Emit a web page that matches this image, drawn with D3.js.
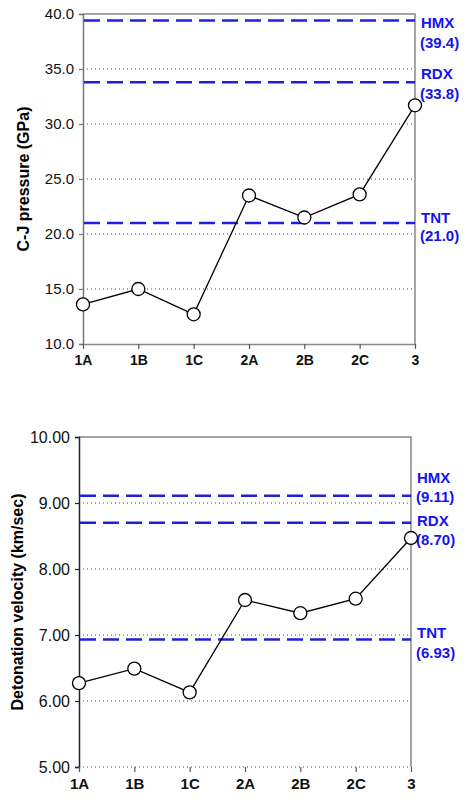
<!DOCTYPE html>
<html>
<head>
<meta charset="utf-8">
<script src="https://cdn.jsdelivr.net/npm/d3@7"></script>
<style>
  body { margin: 0; background: #fff; }
  text { font-family: "Liberation Sans", Arial, sans-serif; }
</style>
</head>
<body>
<div id="chart"></div>
<script>
// Datos
const categories = ["1A", "1B", "1C", "2A", "2B", "2C", "3"];
const pressure = [13.6, 15.0, 12.7, 23.5, 21.5, 23.6, 31.7];
const velocity = [6.27, 6.49, 6.13, 7.53, 7.33, 7.55, 8.47];
const refNames = ["HMX", "RDX", "TNT"];
const refPressure = [39.4, 33.8, 21.0];
const refVelocity = [9.11, 8.70, 6.93];
const pressureTicks = [10, 15, 20, 25, 30, 35, 40];
const velocityTicks = [5, 6, 7, 8, 9, 10];

const svg = d3.select("#chart")
  .append("svg")
  .attr("width", 467)
  .attr("height", 800);

function drawPanel(p) {
  const g = svg.append("g");

  const x = d3.scalePoint().domain(categories).range([p.left, p.right]);
  const y = d3.scaleLinear().domain(d3.extent(p.ticks)).range([p.bottom, p.top]);

  // Rejilla punteada
  g.selectAll(".grid")
    .data(p.ticks.filter(t => t > p.ticks[0] && t < p.ticks[p.ticks.length - 1]).concat(p.dottedBase ? [p.ticks[0]] : []))
    .enter().append("line")
    .attr("x1", p.left).attr("x2", p.right)
    .attr("y1", d => y(d)).attr("y2", d => y(d))
    .attr("stroke", "#444").attr("stroke-width", 1)
    .attr("stroke-dasharray", "1,3");

  // Marco superior y derecho
  g.append("path")
    .attr("d", `M${p.left},${p.top}H${p.right}V${p.bottom}`)
    .attr("fill", "none").attr("stroke", "#888").attr("stroke-width", 1.5);

  // Eje Y
  const yAxis = g.append("g")
    .attr("transform", `translate(${p.left},0)`)
    .call(d3.axisLeft(y).tickValues(p.ticks).tickFormat(d3.format(p.fmt)).tickSize(4).tickPadding(5));
  yAxis.select(".domain").attr("stroke", p.axisColor).attr("stroke-width", 1.5);
  yAxis.selectAll(".tick line").attr("stroke", p.axisColor).attr("stroke-width", 1.2);
  yAxis.selectAll("text").attr("font-size", p.tickSize).attr("fill", "#111");

  // Eje X
  const xAxis = g.append("g")
    .attr("transform", `translate(0,${p.bottom})`)
    .call(d3.axisBottom(x).tickSize(5).tickPadding(6).tickSizeOuter(0));
  xAxis.select(".domain")
    .attr("stroke", p.dottedBase ? "none" : "#888").attr("stroke-width", 1.5);
  xAxis.selectAll(".tick line").attr("stroke", "#555").attr("stroke-width", 1.2);
  xAxis.selectAll("text").attr("font-size", p.xSize).attr("font-weight", "bold").attr("fill", "#111");

  // Líneas de referencia
  p.refs.forEach((v, i) => {
    const yy = y(v);
    g.append("line")
      .attr("x1", p.left + 1).attr("x2", p.right)
      .attr("y1", yy).attr("y2", yy)
      .attr("stroke", "#1f1fe0").attr("stroke-width", 2.5)
      .attr("stroke-dasharray", "16,7");
    const t = g.append("text")
      .attr("x", p.right + 6)
      .attr("font-size", 15).attr("font-weight", "bold")
      .attr("fill", "#1414f0").attr("dominant-baseline", "central");
    t.append("tspan").attr("x", p.right + 6).attr("y", yy + p.labelDy[i][0]).text(refNames[i]);
    t.append("tspan").attr("x", p.right + 5).attr("y", yy + p.labelDy[i][1]).text(`(${d3.format(p.refFmt)(v)})`);
  });

  // Serie
  g.append("path")
    .datum(p.values)
    .attr("fill", "none").attr("stroke", "#000").attr("stroke-width", 1.3)
    .attr("d", d3.line().x((d, i) => x(categories[i])).y(d => y(d)));

  g.selectAll(".pt")
    .data(p.values)
    .enter().append("circle")
    .attr("cx", (d, i) => x(categories[i]))
    .attr("cy", d => y(d))
    .attr("r", 6.5)
    .attr("fill", "#fff").attr("stroke", "#000").attr("stroke-width", 1.3);

  // Título del eje Y
  g.append("text")
    .attr("transform", `translate(${p.titleX},${(p.top + p.bottom) / 2}) rotate(-90)`)
    .attr("text-anchor", "middle").attr("dominant-baseline", "central")
    .attr("font-size", 16).attr("font-weight", "bold").attr("fill", "#000")
    .text(p.title);
}

drawPanel({
  left: 83, right: 415, top: 14, bottom: 344,
  ticks: pressureTicks, values: pressure, refs: refPressure,
  fmt: ".1f", refFmt: ".1f", tickSize: 15, xSize: 14,
  axisColor: "#777", dottedBase: false,
  labelDy: [[1.5, 21], [-9, 11], [-6, 12]],
  titleX: 23, title: "C-J pressure (GPa)"
});

drawPanel({
  left: 79, right: 411, top: 437, bottom: 767,
  ticks: velocityTicks, values: velocity, refs: refVelocity,
  fmt: ".2f", refFmt: ".2f", tickSize: 16, xSize: 15,
  axisColor: "#222", dottedBase: true,
  labelDy: [[-19, 0], [-3, 16], [-7.5, 12]],
  titleX: 17, title: "Detonation velocity (km/sec)"
});
</script>
</body>
</html>
